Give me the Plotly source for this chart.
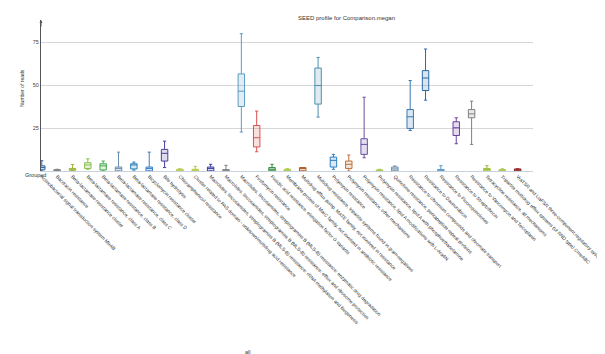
import plotly.graph_objects as go

categories = [
    "Actinobacterial signal transduction system MtrAB",
    "Bacitracin resistance",
    "Beta-lactamase resistance cluster",
    "Beta-lactamase resistance, class A",
    "Beta-lactamase resistance, class B",
    "Beta-lactamase resistance, class C",
    "Beta-lactamase resistance, class D",
    "Bicyclomycin resistance cluster",
    "Bile hydrolysis",
    "Chloramphenicol resistance",
    "Cluster related to PAS domain - unknown/multidrug acid resistance",
    "Macrolides, lincosamides, streptogramins B (MLS-B) resistance: rRNA methylation and biogenesis",
    "Macrolides, lincosamides, streptogramins B (MLS-B) resistance: efflux and ribosome protection",
    "Macrolides, lincosamides, streptogramins B (MLS-B) resistance: enzymatic drug degradation",
    "Fosfomycin resistance",
    "Fusidic acid resistance, elongation factor G variants",
    "Membrane protein of MarC family, not involved in antibiotic resistance",
    "Multidrug efflux pump, MATE family, not involved in resistance",
    "Multidrug resistance, tripartite systems found in gram-negatives",
    "Polymyxin resistance",
    "Polymyxin resistance, other mechanisms",
    "Polymyxin resistance, lipid A modifications with L-Ara4N",
    "Polymyxin resistance, lipid A with phosphoethanolamine",
    "Quinolone resistance, pentapeptide repeat proteins",
    "Resistance to chromium compounds and chromate transport",
    "Resistance to Daunorubicin",
    "Resistance to Fluoroquinolones",
    "Resistance to Streptothricin",
    "Resistance to Vancomycin and Teicoplanin",
    "Tetracycline resistance, all mechanisms",
    "Tripartite multidrug efflux systems (of RND type) CmeABC",
    "VraTSR and LiaFSR three-component regulatory systems",
]

q1_values = [0.7, 0.1, 0.4, 1.5, 0.6, 0.0, 1.2, 0.0, 5.8, 0.0, 0.0, 0.0, 0.0, 37.6, 14.0, 0.0,
             0.0, 0.0, 39.0, 2.3, 1.5, 9.7, 0.0, 0.0, 24.8, 46.9, 0.0, 20.7, 31.0, 0.0, 0.0, 0.0]
median_values = [2.0, 0.4, 1.0, 3.5, 3.0, 1.5, 3.5, 1.5, 10.3, 0.5, 0.5, 1.5, 0.5, 46.5, 19.4, 1.0,
                 0.5, 1.5, 49.8, 6.2, 3.9, 15.5, 0.4, 1.2, 31.6, 54.2, 0.5, 25.2, 33.3, 1.0, 0.4, 0.8]
q3_values = [3.0, 0.8, 1.5, 4.8, 4.2, 2.3, 4.2, 2.3, 12.6, 1.0, 1.0, 2.3, 0.8, 56.6, 26.5, 2.0,
             1.0, 2.0, 60.0, 8.1, 5.8, 18.8, 0.6, 2.3, 35.8, 58.5, 0.9, 28.7, 35.8, 1.5, 0.8, 1.2]
min_values = [0.0, 0.0, 0.0, 1.0, 0.0, 0.0, 0.5, 0.0, 2.0, 0.0, 0.0, 0.0, 0.0, 22.7, 11.2, 0.0,
              0.0, 0.0, 31.4, 1.0, 0.0, 7.7, 0.0, 0.0, 23.6, 41.3, 0.0, 15.9, 15.5, 0.0, 0.0, 0.0]
max_values = [6.0, 1.0, 3.8, 7.1, 5.8, 11.0, 5.2, 11.0, 17.4, 1.3, 2.7, 3.9, 3.3, 80.0, 34.9, 3.9,
              1.3, 2.0, 66.2, 9.7, 9.3, 43.0, 1.0, 2.9, 52.7, 71.1, 3.1, 31.0, 40.7, 3.1, 1.3, 1.2]

colors = ["#2a66a8", "#808080", "#9bb53b", "#86bf4a", "#4aa84e", "#6a8cae", "#2c7fb8", "#3a7dc9",
          "#4b3f9c", "#b5c94a", "#b5c94a", "#3c3ca0", "#7f7f7f", "#5b9bc0", "#d9534f", "#2e8b3e",
          "#a8c84a", "#b05a2a", "#4f8fb0", "#2f7fc0", "#c0703a", "#6b4fa0", "#a8c84a", "#6a8cae",
          "#3a78b0", "#2a6aa8", "#5a9ac8", "#6b3fa0", "#808080", "#9cbc3a", "#a8c84a", "#8b1a1a"]

y_ticks = [25, 50, 75]


def rgba(hexc, a):
    h = hexc.lstrip("#")
    r, g, b = int(h[0:2], 16), int(h[2:4], 16), int(h[4:6], 16)
    return f"rgba({r},{g},{b},{a})"


fig = go.Figure()
for i, name in enumerate(categories):
    fig.add_trace(go.Box(
        x=[i], q1=[q1_values[i]], median=[median_values[i]], q3=[q3_values[i]],
        lowerfence=[min_values[i]], upperfence=[max_values[i]],
        name=name, width=0.42, whiskerwidth=0.5,
        line=dict(color=colors[i], width=1),
        fillcolor=rgba(colors[i], 0.18),
        showlegend=False,
    ))

W, H = 605, 354
L, R, T, B = 33, 80, 12, 191
pw = W - L - R
ph = H - T - B


def px_to_paper(xp, yp):
    return (xp - L) / pw, (H - B - yp) / ph


fig.update_layout(
    width=W, height=H, template="none",
    margin=dict(l=L, r=R, t=T, b=B, pad=0),
    paper_bgcolor="white", plot_bgcolor="white",
    font=dict(family="Liberation Sans, Arial, sans-serif", color="#333"),
    xaxis=dict(
        range=[-0.05, 32], tickmode="array", tickvals=list(range(len(categories))),
        ticktext=categories, tickangle=45, tickfont=dict(size=4.8, color="#222"),
        showgrid=False, zeroline=False, showline=True, linecolor="#c9d3dd", linewidth=1,
        ticks="", automargin=False,
    ),
    yaxis=dict(
        range=[0, 88], tickmode="array", tickvals=y_ticks, ticktext=[str(v) for v in y_ticks],
        tickfont=dict(size=5.5, color="#444"), showgrid=True, gridcolor="#d6d6d6", gridwidth=1,
        zeroline=False, showline=True, linecolor="#555", linewidth=1, ticks="", automargin=False,
    ),
)

tx, ty = px_to_paper(338, 5)
gx, gy = px_to_paper(15, 172)
yx, yy = px_to_paper(9, 80)
ax_, ay_ = px_to_paper(240, 349)
fig.add_annotation(x=tx, y=ty, xref="paper", yref="paper", text="SEED profile for Comparison.megan",
                   showarrow=False, font=dict(size=6, color="#333"))
fig.add_annotation(x=gx, y=gy, xref="paper", yref="paper", text="Grouped",
                   showarrow=False, font=dict(size=5.5, color="#333"))
fig.add_annotation(x=yx, y=yy, xref="paper", yref="paper", text="Number of reads", textangle=-90,
                   showarrow=False, font=dict(size=5, color="#333"))
fig.add_annotation(x=ax_, y=ay_, xref="paper", yref="paper", text="all",
                   showarrow=False, font=dict(size=5.5, color="#333"))
fig.add_annotation(x=0, y=1, xref="paper", yref="paper", ax=0, ay=8, axref="pixel", ayref="pixel",
                   text="", showarrow=True, arrowhead=2, arrowsize=0.6, arrowwidth=1, arrowcolor="#555")

fig.write_html("out.html")
